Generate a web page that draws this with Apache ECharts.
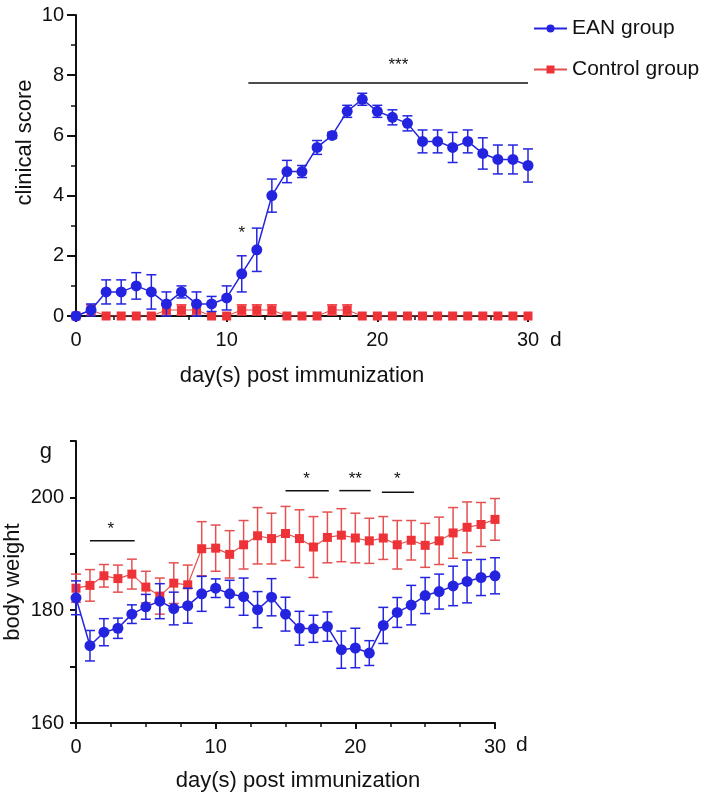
<!DOCTYPE html>
<html>
<head>
<meta charset="utf-8">
<script src="https://cdn.jsdelivr.net/npm/echarts@6/dist/echarts.min.js"></script>
<style>
html,body{margin:0;padding:0;background:#fff;}
#chart{width:709px;height:795px;}
</style>
</head>
<body>
<div id="chart"></div>
<script>
// ---------- data ----------
const days = [0,1,2,3,4,5,6,7,8,9,10,11,12,13,14,15,16,17,18,19,20,21,22,23,24,25,26,27,28,29,30];

// clinical score
const scoreEAN     = [0,0.2,0.8,0.8,1.0,0.8,0.4,0.8,0.4,0.4,0.6,1.4,2.2,4.0,4.8,4.8,5.6,6.0,6.8,7.2,6.8,6.6,6.4,5.8,5.8,5.6,5.8,5.4,5.2,5.2,5.0];
const scoreEANsem  = [0,0.2,0.4,0.4,0.44,0.57,0.4,0.2,0.4,0.25,0.4,0.6,0.72,0.55,0.37,0.2,0.23,0.1,0.2,0.2,0.2,0.25,0.25,0.38,0.38,0.5,0.38,0.52,0.48,0.48,0.55];
const scoreCtrl    = [0,0.2,0,0,0,0,0.2,0.2,0.2,0,0,0.2,0.2,0.2,0,0,0,0.2,0.2,0,0,0,0,0,0,0,0,0,0,0,0];
const scoreCtrlSem = [0,0.17,0,0,0,0,0.17,0.17,0.17,0,0,0.17,0.17,0.17,0,0,0,0.17,0.17,0,0,0,0,0,0,0,0,0,0,0,0];

// body weight
const weightEAN     = [182.2,173.7,176.1,176.8,179.3,180.6,181.6,180.3,180.8,182.9,183.9,182.9,182.4,180.1,182.3,179.3,176.8,176.7,177.1,173.0,173.3,172.4,177.3,179.6,180.9,182.6,183.3,184.3,185.1,185.8,186.1];
const weightEANsem  = [3.0,2.7,2.4,1.8,1.65,2.2,3.1,2.9,3.1,3.1,1.65,2.4,3.3,3.2,3.3,3.0,3.0,2.4,2.6,3.3,3.5,2.2,3.2,2.65,3.5,3.2,3.1,3.5,3.8,3.2,3.2];
const weightCtrl    = [183.9,184.4,186.1,185.6,186.4,184.1,182.5,184.8,184.5,190.9,191.0,189.9,191.6,193.2,192.7,193.6,192.7,191.2,192.9,193.3,192.8,192.3,192.8,191.6,192.4,191.5,192.3,193.7,194.7,195.2,196.1];
const weightCtrlSem = [2.5,2.8,2.0,2.4,2.65,2.8,3.2,3.6,3.5,4.8,4.1,4.2,4.3,5.0,4.5,4.8,5.1,5.4,4.5,4.7,4.4,4.0,3.8,4.3,3.5,3.9,4.2,4.5,4.5,3.9,3.7];

// significance annotations: line from start to end at level, label at (labelX, labelY)
const scoreSigStart  = [11.44, null];
const scoreSigEnd    = [30.0, null];
const scoreSigLevel  = [7.74, null];
const scoreSigLabelX = [21.4, 11.0];
const scoreSigLabelY = [8.47, 2.88];
const scoreSigText   = ['***', '*'];

const weightSigStart  = [1.0, 15.0, 18.85, 21.9];
const weightSigEnd    = [4.2, 18.1, 21.1, 24.2];
const weightSigLevel  = [192.3, 201.2, 201.2, 200.9];
const weightSigLabelX = [2.5, 16.5, 20.0, 23.0];
const weightSigLabelY = [195.0, 203.9, 203.9, 203.9];
const weightSigText   = ['*', '*', '**', '*'];

const xTicks = [0,10,20,30];
const scoreTicks = [0,2,4,6,8,10];
const weightTicks = [160,180,200];

// ---------- style ----------
const BLUE = '#2424e0';
const RED = '#ee3338';
const RED_LINE = '#e55050';
const FONT = 'Liberation Sans, Arial, sans-serif';
const INK = '#111';

function errSeries(name, idx, mean, sem, color, z) {
  return {
    name: name, type: 'custom', xAxisIndex: idx, yAxisIndex: idx, z: z, silent: true,
    data: days.map((d, i) => [d, mean[i] - sem[i], mean[i] + sem[i]]),
    encode: { x: 0, y: [1, 2] },
    clip: false,
    renderItem: function (params, api) {
      const x = api.value(0), lo = api.value(1), hi = api.value(2);
      if (hi - lo <= 0) return null;
      const a = api.coord([x, hi]);
      const b = api.coord([x, lo]);
      const w = 5;
      const st = { stroke: color, lineWidth: 1.5 };
      return { type: 'group', children: [
        { type: 'line', shape: { x1: a[0], y1: a[1], x2: b[0], y2: b[1] }, style: st },
        { type: 'line', shape: { x1: a[0] - w, y1: a[1], x2: a[0] + w, y2: a[1] }, style: st },
        { type: 'line', shape: { x1: b[0] - w, y1: b[1], x2: b[0] + w, y2: b[1] }, style: st }
      ]};
    }
  };
}

function sigSeries(idx, start, end, level, lx, ly, text) {
  return {
    type: 'custom', xAxisIndex: idx, yAxisIndex: idx, z: 20, silent: true, clip: false,
    data: text.map((t, i) => [lx[i], ly[i], start[i] == null ? NaN : start[i], end[i] == null ? NaN : end[i], level[i] == null ? NaN : level[i], i]),
    encode: { x: 0, y: 1 },
    renderItem: function (params, api) {
      const i = api.value(5);
      const children = [];
      const s = api.value(2), e = api.value(3), l = api.value(4);
      if (!isNaN(s)) {
        const p1 = api.coord([s, l]), p2 = api.coord([e, l]);
        children.push({ type: 'line', shape: { x1: p1[0], y1: p1[1], x2: p2[0], y2: p2[1] }, style: { stroke: INK, lineWidth: 1.5 } });
      }
      const p = api.coord([api.value(0), api.value(1)]);
      children.push({ type: 'text', x: p[0], y: p[1] + 4, style: { text: text[i], fill: INK, font: '17px ' + FONT, align: 'center', verticalAlign: 'middle' } });
      return { type: 'group', children: children };
    }
  };
}

function xAxis(idx) {
  return {
    type: 'value', gridIndex: idx, min: 0, max: 30, interval: 10,
    name: 'day(s) post immunization', nameLocation: 'middle', nameGap: idx === 0 ? 49 : 47,
    nameMoveOverlap: false,
    nameTextStyle: { fontFamily: FONT, fontSize: 22, color: INK, padding: idx === 0 ? 0 : [0, 0, 0, 25] },
    axisLine: { onZero: false, lineStyle: { color: INK, width: 2 } },
    axisTick: { length: 6, lineStyle: { color: INK, width: 2 } },
    minorTick: { show: true, splitNumber: 4, length: 4, lineStyle: { color: INK, width: 1.5 } },
    splitLine: { show: false },
    axisLabel: { fontFamily: FONT, fontSize: 20, color: INK, margin: 14,
      formatter: v => xTicks.indexOf(v) >= 0 ? String(v) : '' }
  };
}

const option = {
  animation: false,
  backgroundColor: '#fff',
  textStyle: { fontFamily: FONT },
  grid: [
    { left: 76, right: 181, top: 15, bottom: 479, outerBoundsMode: 'none', containLabel: false },
    { left: 76, right: 214, top: 441, bottom: 72, outerBoundsMode: 'none', containLabel: false }
  ],
  legend: {
    data: ['EAN group', 'Control group'],
    orient: 'vertical', left: 528, top: 13, itemGap: 20,
    itemWidth: 33, itemHeight: 10,
    textStyle: { fontFamily: FONT, fontSize: 21, color: INK },
    selectedMode: false
  },
  xAxis: [xAxis(0), xAxis(1)],
  yAxis: [
    {
      type: 'value', gridIndex: 0, min: 0, max: 10, interval: 2,
      name: 'clinical score', nameLocation: 'middle', nameGap: 40, nameRotate: 90,
      nameMoveOverlap: false,
      nameTextStyle: { fontFamily: FONT, fontSize: 22, color: INK, padding: [0, 0, 0, 46] },
      axisLine: { show: true, lineStyle: { color: INK, width: 2 } },
      axisTick: { show: true, length: 9, lineStyle: { color: INK, width: 2 } },
      minorTick: { show: true, splitNumber: 2, length: 5, lineStyle: { color: INK, width: 1.5 } },
      splitLine: { show: false },
      axisLabel: { fontFamily: FONT, fontSize: 20, color: INK, margin: 12,
        formatter: v => scoreTicks.indexOf(v) >= 0 ? String(v) : '' }
    },
    {
      type: 'value', gridIndex: 1, min: 160, max: 210, interval: 10,
      name: 'body weight', nameLocation: 'middle', nameGap: 52, nameRotate: 90,
      nameMoveOverlap: false,
      nameTextStyle: { fontFamily: FONT, fontSize: 22, color: INK },
      axisLine: { show: true, lineStyle: { color: INK, width: 2 } },
      axisTick: { show: true, length: 6, lineStyle: { color: INK, width: 2 } },
      splitLine: { show: false },
      axisLabel: { fontFamily: FONT, fontSize: 20, color: INK, margin: 12,
        formatter: v => v === 210 ? '{g|g}' : (weightTicks.indexOf(v) >= 0 ? String(v) : ''),
        rich: { g: { fontFamily: FONT, fontSize: 22, color: INK, padding: [22, 12, 0, 0] } } }
    }
  ],
  graphic: [
    { type: 'text', left: 550, top: 330, style: { text: 'd', font: '21px ' + FONT, fill: INK } },
    { type: 'text', left: 516, top: 735, style: { text: 'd', font: '21px ' + FONT, fill: INK } }
  ],
  series: [
    errSeries('ctrlErr0', 0, scoreCtrl, scoreCtrlSem, RED, 2),
    {
      name: 'Control group', type: 'line', xAxisIndex: 0, yAxisIndex: 0, z: 3,
      data: days.map((d, i) => [d, scoreCtrl[i]]),
      symbol: 'rect', symbolSize: 9, showAllSymbol: true,
      itemStyle: { color: RED }, lineStyle: { color: RED_LINE, width: 1.2 }
    },
    errSeries('eanErr0', 0, scoreEAN, scoreEANsem, BLUE, 4),
    {
      name: 'EAN group', type: 'line', xAxisIndex: 0, yAxisIndex: 0, z: 5,
      data: days.map((d, i) => [d, scoreEAN[i]]),
      symbol: 'circle', symbolSize: 11, showAllSymbol: true,
      itemStyle: { color: BLUE }, lineStyle: { color: BLUE, width: 1.5 }
    },
    errSeries('ctrlErr1', 1, weightCtrl, weightCtrlSem, RED_LINE, 2),
    {
      name: 'Control group', type: 'line', xAxisIndex: 1, yAxisIndex: 1, z: 3,
      data: days.map((d, i) => [d, weightCtrl[i]]),
      symbol: 'rect', symbolSize: 9, showAllSymbol: true,
      itemStyle: { color: RED }, lineStyle: { color: RED_LINE, width: 1.2 }
    },
    errSeries('eanErr1', 1, weightEAN, weightEANsem, BLUE, 4),
    {
      name: 'EAN group', type: 'line', xAxisIndex: 1, yAxisIndex: 1, z: 5,
      data: days.map((d, i) => [d, weightEAN[i]]),
      symbol: 'circle', symbolSize: 11, showAllSymbol: true,
      itemStyle: { color: BLUE }, lineStyle: { color: BLUE, width: 1.5 }
    },
    sigSeries(0, scoreSigStart, scoreSigEnd, scoreSigLevel, scoreSigLabelX, scoreSigLabelY, scoreSigText),
    sigSeries(1, weightSigStart, weightSigEnd, weightSigLevel, weightSigLabelX, weightSigLabelY, weightSigText)
  ]
};

const chart = echarts.init(document.getElementById('chart'), null, { renderer: 'canvas' });
chart.setOption(option);
</script>
</body>
</html>
